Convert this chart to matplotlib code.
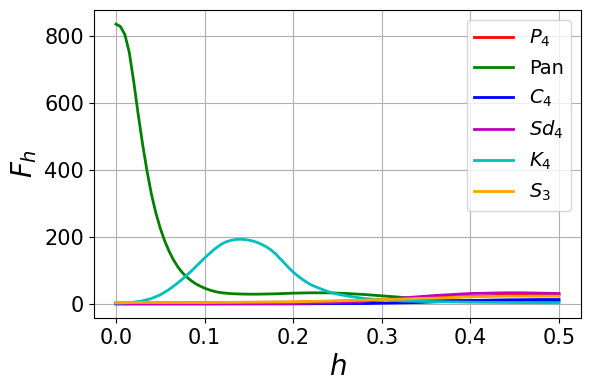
import matplotlib
matplotlib.use("Agg")
import matplotlib.pyplot as plt
import numpy as np

# values
h_pan = [0, 0.005, 0.01, 0.015, 0.02, 0.025, 0.03, 0.035, 0.04, 0.045, 0.05, 0.055,
         0.06, 0.065, 0.07, 0.075, 0.08, 0.085, 0.09, 0.095, 0.1, 0.105, 0.11, 0.115,
         0.12, 0.13, 0.14, 0.15, 0.16, 0.18, 0.2, 0.22, 0.24, 0.26, 0.28, 0.3, 0.32,
         0.34, 0.36, 0.38, 0.4, 0.42, 0.44, 0.46, 0.48, 0.5]
f_pan = [836, 829, 805, 752, 665, 568, 478, 398, 328, 272, 226, 188,
         157, 131, 110, 93, 80, 69, 60, 53, 47, 42, 38, 35,
         33, 30.5, 29.5, 29, 29, 30, 32, 33, 33, 31, 28, 24, 20,
         15, 12, 11, 10, 9.5, 9, 8.5, 8, 8]

h_k4 = [0, 0.01, 0.02, 0.03, 0.04, 0.05, 0.06, 0.07, 0.075, 0.08, 0.085, 0.09, 0.095,
        0.1, 0.105, 0.11, 0.115, 0.12, 0.125, 0.13, 0.135, 0.14, 0.145, 0.15, 0.155,
        0.16, 0.165, 0.17, 0.175, 0.18, 0.185, 0.19, 0.195, 0.2, 0.205, 0.21, 0.215,
        0.22, 0.23, 0.24, 0.25, 0.26, 0.27, 0.28, 0.29, 0.3, 0.32, 0.35, 0.4, 0.45, 0.5]
f_k4 = [2, 3, 5, 9, 16, 27, 43, 63, 74, 86, 98, 111, 124,
        137, 149, 161, 171, 180, 186, 190, 192.5, 193, 192.5, 190.5, 187.5,
        183, 177, 170, 161, 150, 136, 122, 108, 95, 84, 74, 65,
        57, 46, 36, 29, 24, 20, 16, 14, 12, 9, 7, 5, 4, 3]

h_low = [0, 0.1, 0.2, 0.25, 0.28, 0.3, 0.32, 0.34, 0.36, 0.38, 0.4, 0.42, 0.44,
         0.46, 0.48, 0.5]
f_p4 = [3, 4, 5, 8, 10, 12, 14, 17, 19, 21, 22, 24, 26, 27, 28, 28]
f_c4 = [0, 0, 0, 1, 1, 2, 3, 4, 6, 8, 10, 11, 12, 12.5, 13, 13]
f_sd4 = [0, 0, 1, 4, 8, 12, 17, 21, 25, 28, 31, 32, 33, 33, 32, 31]
f_s3 = [4, 4, 6, 9, 11, 13, 14, 16, 17, 19, 21, 22, 23, 23, 23, 23]

fig, ax = plt.subplots(figsize=(5.9, 3.9), dpi=100)
fig.subplots_adjust(left=0.159, right=0.985, bottom=0.185, top=0.974)

ax.plot(h_low, f_p4, color="red", lw=2, label="$P_4$")
ax.plot(h_pan, f_pan, color="green", lw=2, label="Pan")
ax.plot(h_low, f_c4, color="blue", lw=2, label="$C_4$")
ax.plot(h_low, f_sd4, color="m", lw=2, label="$Sd_4$")
ax.plot(h_k4, f_k4, color="c", lw=2, label="$K_4$")
ax.plot(h_low, f_s3, color="orange", lw=2, label="$S_3$")

ax.set_xlabel("$h$", fontsize=20)
ax.set_ylabel("$F_h$", fontsize=20)
ax.tick_params(labelsize=15)
ax.grid(True)
ax.legend(loc="upper right", fontsize=14)

fig.savefig("out.png")
